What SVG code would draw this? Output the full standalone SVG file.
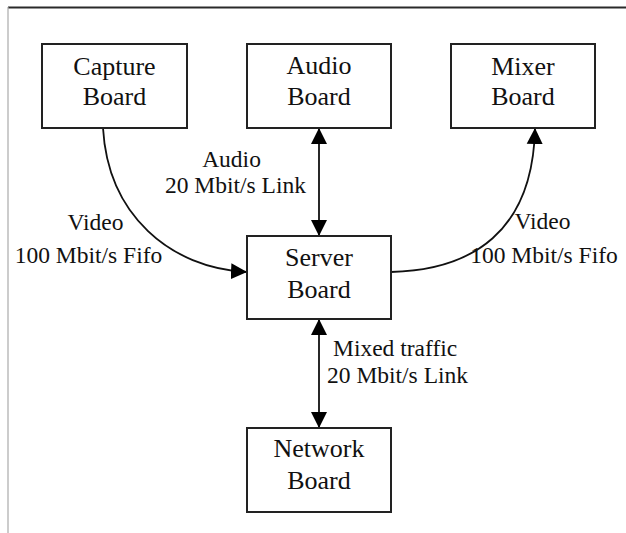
<svg xmlns="http://www.w3.org/2000/svg" width="626" height="533" viewBox="0 0 626 533">
<style>
.box{fill:#fff;stroke:#222;stroke-width:2}
.nt{font-family:"Liberation Serif","Times New Roman",serif;font-size:26px;fill:#111;text-anchor:middle}
.lb{font-family:"Liberation Serif","Times New Roman",serif;font-size:23.5px;fill:#111}
.c{fill:none;stroke:#111;stroke-width:1.8}
</style>
<defs>
<marker id="ah" markerUnits="userSpaceOnUse" markerWidth="17" markerHeight="17" viewBox="0 0 17 17" refX="16" refY="8.5" orient="auto-start-reverse">
<path d="M0,0.5 L16,8.5 L0,16.5 Z" fill="#000"/>
</marker>
</defs>
<rect width="626" height="533" fill="#fff"/>
<line x1="8" y1="7.5" x2="626" y2="7.5" stroke="#2a2a2a" stroke-width="2.2"/>
<line x1="8" y1="7" x2="8" y2="533" stroke="#aaa" stroke-width="1.2"/>
<g id="connectors">
<path class="c" d="M103,128 C108,215 170,268 247,272" marker-end="url(#ah)"/>
<path class="c" d="M391,272 C472,270 533,232 535,128" marker-end="url(#ah)"/>
<line class="c" x1="319" y1="128" x2="319" y2="236" marker-start="url(#ah)" marker-end="url(#ah)"/>
<line class="c" x1="319" y1="319" x2="319" y2="428" marker-start="url(#ah)" marker-end="url(#ah)"/>
<text class="lb" x="95.5" y="230" text-anchor="middle">Video</text>
<text class="lb" x="88.5" y="263" text-anchor="middle">100 Mbit/s Fifo</text>
<text class="lb" x="542.5" y="229" text-anchor="middle">Video</text>
<text class="lb" x="544" y="263" text-anchor="middle">100 Mbit/s Fifo</text>
<text class="lb" x="231.5" y="167" text-anchor="middle">Audio</text>
<text class="lb" x="306" y="193" text-anchor="end">20 Mbit/s Link</text>
<text class="lb" x="333" y="356">Mixed traffic</text>
<text class="lb" x="327" y="383">20 Mbit/s Link</text>
</g>
<g id="capture">
<rect class="box" x="42" y="44" width="145" height="84"/>
<text class="nt" x="114.5" y="75">Capture</text>
<text class="nt" x="114.5" y="105">Board</text>
</g>
<g id="audio">
<rect class="box" x="247" y="44" width="144" height="84"/>
<text class="nt" x="319" y="74">Audio</text>
<text class="nt" x="319" y="105">Board</text>
</g>
<g id="mixer">
<rect class="box" x="451" y="44" width="144" height="84"/>
<text class="nt" x="523" y="75">Mixer</text>
<text class="nt" x="523" y="105">Board</text>
</g>
<g id="server">
<rect class="box" x="247" y="236" width="144" height="83"/>
<text class="nt" x="319" y="266">Server</text>
<text class="nt" x="319" y="298">Board</text>
</g>
<g id="network">
<rect class="box" x="247" y="428" width="144" height="84"/>
<text class="nt" x="319" y="457">Network</text>
<text class="nt" x="319" y="489">Board</text>
</g>
</svg>
